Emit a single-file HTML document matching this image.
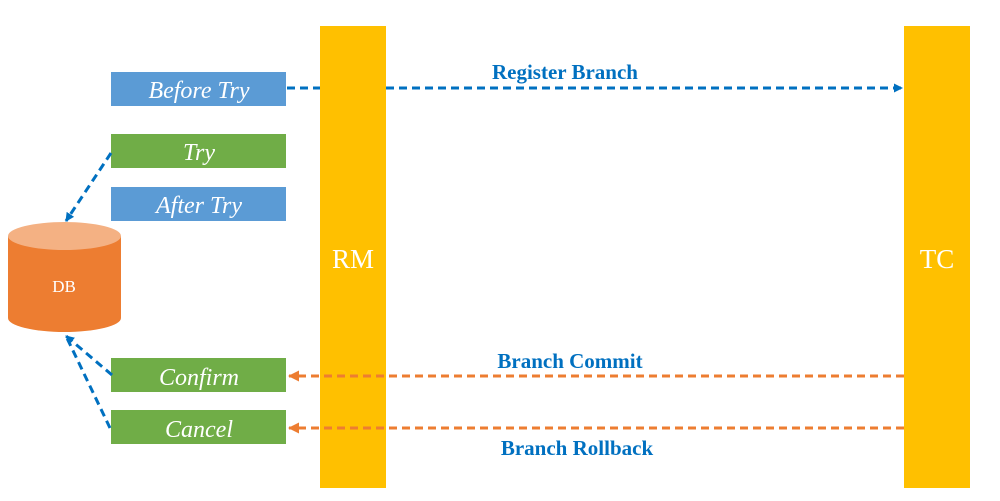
<!DOCTYPE html>
<html><head><meta charset="utf-8"><style>
body{margin:0;width:1000px;height:496px;background:#fff;overflow:hidden}
</style></head><body>
<svg width="1000" height="496" xmlns="http://www.w3.org/2000/svg">
<defs>
<marker id="ab" markerWidth="9" markerHeight="9" refX="8" refY="4.5" orient="auto" markerUnits="userSpaceOnUse"><path d="M0,0 L9,4.5 L0,9 z" fill="#0070c0"/></marker>
<marker id="ao" markerWidth="11" markerHeight="11" refX="10" refY="5.5" orient="auto" markerUnits="userSpaceOnUse"><path d="M0,0 L11,5.5 L0,11 z" fill="#ed7d31"/></marker>
</defs>
<rect x="320" y="26" width="66" height="462" fill="#ffc000"/>
<rect x="904" y="26" width="66" height="462" fill="#ffc000"/>
<text x="353" y="268" font-family="Liberation Serif,serif" font-size="27" fill="#fff" text-anchor="middle">RM</text>
<text x="937" y="268" font-family="Liberation Serif,serif" font-size="27" fill="#fff" text-anchor="middle">TC</text>
<g font-family="Liberation Serif,serif" font-style="italic" font-size="24" fill="#fff" text-anchor="middle">
<rect x="111" y="72" width="175" height="34" fill="#5b9bd5"/><text x="199" y="98">Before Try</text>
<rect x="111" y="134" width="175" height="34" fill="#70ad47"/><text x="199" y="160">Try</text>
<rect x="111" y="187" width="175" height="34" fill="#5b9bd5"/><text x="199" y="213">After Try</text>
<rect x="111" y="358" width="175" height="34" fill="#70ad47"/><text x="199" y="385">Confirm</text>
<rect x="111" y="410" width="175" height="34" fill="#70ad47"/><text x="199" y="437">Cancel</text>
</g>
<path d="M8,236 L8,318 A56.5,14 0 0 0 121,318 L121,236 z" fill="#ed7d31"/>
<ellipse cx="64.5" cy="236" rx="56.5" ry="14" fill="#f4b183"/>
<text x="64" y="292" font-family="Liberation Serif,serif" font-size="17" fill="#fff" text-anchor="middle">DB</text>
<g stroke-dasharray="8,5" stroke-width="3" fill="none">
<line x1="287" y1="88" x2="320" y2="88" stroke="#0070c0"/>
<line x1="386" y1="88" x2="902" y2="88" stroke="#0070c0" marker-end="url(#ab)"/>
<line x1="111" y1="153" x2="66" y2="221" stroke="#0070c0" marker-end="url(#ab)"/>
<line x1="112" y1="375" x2="66" y2="336" stroke="#0070c0" marker-end="url(#ab)"/>
<line x1="110" y1="428" x2="66" y2="336" stroke="#0070c0"/>
<line x1="904" y1="376" x2="289" y2="376" stroke="#ed7d31" marker-end="url(#ao)"/>
<line x1="904" y1="428" x2="289" y2="428" stroke="#ed7d31" marker-end="url(#ao)"/>
</g>
<g font-family="Liberation Serif,serif" font-weight="bold" font-size="21" fill="#0070c0" text-anchor="middle">
<text x="565" y="79">Register Branch</text>
<text x="570" y="368">Branch Commit</text>
<text x="577" y="455">Branch Rollback</text>
</g>
</svg>
</body></html>
